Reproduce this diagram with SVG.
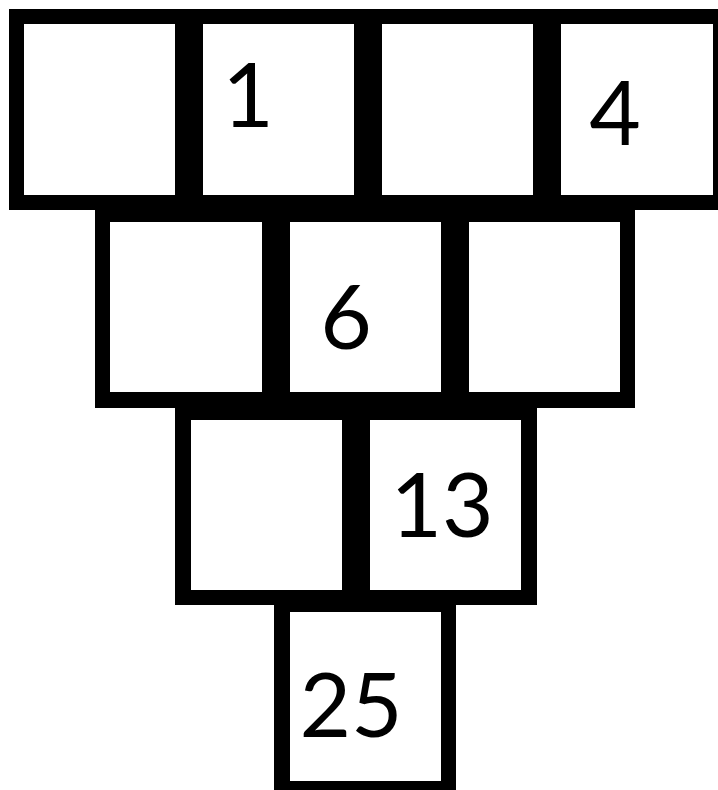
<svg xmlns="http://www.w3.org/2000/svg" width="718" height="790" viewBox="0 0 718 790">
<style>
.frame{fill:#000}
.cell{fill:#fff}
.num{font-family:Lato,"DejaVu Sans",sans-serif;font-size:89px;fill:#000;text-anchor:middle}
</style>
<rect x="0" y="0" width="718" height="790" fill="#fff"/>
<g id="frames">
<rect class="frame" x="9" y="9" width="720" height="201"/>
<rect class="frame" x="95" y="195" width="540" height="213"/>
<rect class="frame" x="175" y="392" width="362" height="213"/>
<rect class="frame" x="274" y="590" width="182" height="205"/>
</g>
<g id="r1c1"><rect class="cell" x="24" y="24" width="151" height="171"/></g>
<g id="r1c2"><rect class="cell" x="203" y="24" width="151" height="171"/><text class="num" x="248" y="127">1</text></g>
<g id="r1c3"><rect class="cell" x="382" y="24" width="151" height="171"/></g>
<g id="r1c4"><rect class="cell" x="561" y="24" width="152" height="171"/><text class="num" x="615" y="145">4</text></g>
<g id="r2c1"><rect class="cell" x="110" y="222" width="152" height="170"/></g>
<g id="r2c2"><rect class="cell" x="290" y="222" width="151" height="170"/><text class="num" x="346" y="349">6</text></g>
<g id="r2c3"><rect class="cell" x="469" y="222" width="151" height="170"/></g>
<g id="r3c1"><rect class="cell" x="191" y="420" width="151" height="170"/></g>
<g id="r3c2"><rect class="cell" x="370" y="420" width="151" height="170"/><text class="num" x="442" y="537">13</text></g>
<g id="r4c1"><rect class="cell" x="290" y="612" width="151" height="169"/><text class="num" x="351" y="737">25</text></g>
<g id="connectors"></g>
</svg>
